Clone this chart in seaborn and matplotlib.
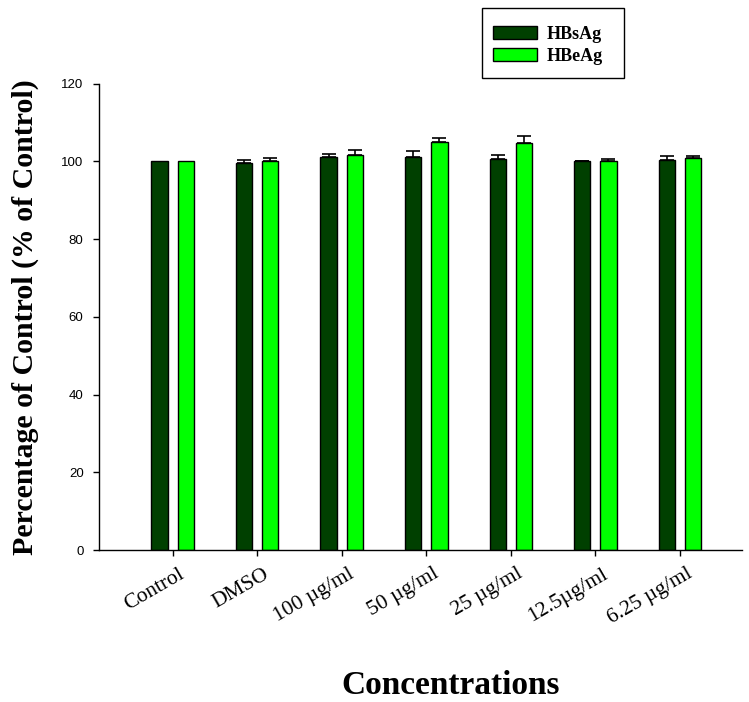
import numpy as np
import pandas as pd
import matplotlib
matplotlib.use("Agg")
import matplotlib.pyplot as plt
import matplotlib.transforms as mtransforms
import seaborn as sns
from matplotlib.patches import Patch, Rectangle

# Data: percentage of control for each antigen
concentrations = ["Control", "DMSO", "100 \u00b5g/ml", "50 \u00b5g/ml",
                  "25 \u00b5g/ml", "12.5\u00b5g/ml", "6.25 \u00b5g/ml"]
hbsag_mean = [100.0, 99.6, 101.1, 101.2, 100.6, 100.0, 100.3]
hbsag_err = [0.0, 0.8, 0.7, 1.4, 0.9, 0.2, 1.1]
hbeag_mean = [100.0, 100.0, 101.6, 105.0, 104.6, 100.1, 100.8]
hbeag_err = [0.0, 0.9, 1.4, 0.9, 1.9, 0.5, 0.6]
series = ["HBsAg", "HBeAg"]
colors = ["#004000", "#00ff00"]

df = pd.DataFrame({
    "Concentration": concentrations * 2,
    "Antigen": [series[0]] * len(concentrations) + [series[1]] * len(concentrations),
    "Value": hbsag_mean + hbeag_mean,
    "Err": hbsag_err + hbeag_err,
})

sns.set_theme(style="ticks")
plt.rcParams["font.family"] = ["Liberation Serif", "DejaVu Serif"]
plt.rcParams["text.color"] = "black"
plt.rcParams["axes.labelcolor"] = "black"
plt.rcParams["xtick.color"] = "black"
plt.rcParams["ytick.color"] = "black"

fig = plt.figure(figsize=(7.49, 7.02), dpi=100)
ax = fig.add_axes([0.132, 0.2165, 0.859, 0.6645])

sns.barplot(data=df, x="Concentration", y="Value", hue="Antigen",
            order=concentrations, hue_order=series, palette=colors,
            width=0.62, gap=0.38, errorbar=None, edgecolor="black",
            linewidth=1.0, saturation=1, legend=False, ax=ax)

# Upper-only error bars placed on each bar's centre
for container, errs in zip(ax.containers, [hbsag_err, hbeag_err]):
    for bar, e in zip(container, errs):
        if e <= 0:
            continue
        xc = bar.get_x() + bar.get_width() / 2
        h = bar.get_height()
        ax.errorbar(xc, h, yerr=[[0], [e]], fmt="none", ecolor="black",
                    elinewidth=1.2, capsize=5, capthick=1.2, zorder=3)

ax.set_xlim(-0.872, 6.737)
ax.set_ylim(0, 120)
ax.set_yticks(np.arange(0, 121, 20))
for lbl in ax.get_yticklabels():
    lbl.set_fontfamily("Liberation Sans")
    lbl.set_fontsize(9.5)

ax.set_xticks(range(len(concentrations)))
ax.set_xticklabels(concentrations, rotation=30, ha="right", va="top",
                   rotation_mode="anchor", fontsize=15.5)
ax.tick_params(axis="both", direction="out", length=4.5, width=1,
               colors="black")
ax.tick_params(axis="x", pad=6)
ax.tick_params(axis="y", pad=6.5)
shift = mtransforms.ScaledTranslation(0.06, 0, fig.dpi_scale_trans)
for lbl in ax.get_xticklabels():
    lbl.set_transform(lbl.get_transform() + shift)

sns.despine(ax=ax)
for s in ["left", "bottom"]:
    ax.spines[s].set_linewidth(1.0)
    ax.spines[s].set_color("black")

ax.set_xlabel("")
ax.set_ylabel("Percentage of Control (% of Control)", fontsize=21.5,
              fontweight="bold", labelpad=16)
fig.text(0.601, 0.024, "Concentrations", ha="center", va="center",
         fontsize=24, fontweight="bold")

# Legend box drawn as a figure rectangle, entries placed inside it
W, H = fig.get_size_inches() * fig.dpi
fig.patches.append(Rectangle((482 / W, 1 - 78 / H), 142 / W, 70 / H,
                             transform=fig.transFigure, facecolor="white",
                             edgecolor="black", linewidth=1.0, zorder=5))
handles = [Patch(facecolor=c, edgecolor="black", label=s)
           for c, s in zip(colors, series)]
leg = fig.legend(handles=handles, loc="upper left",
                 bbox_to_anchor=(493 / W, 1 - 26 / H),
                 frameon=False, prop={"weight": "bold", "size": 13},
                 handlelength=2.45, handleheight=0.7, borderpad=0,
                 handletextpad=0.5, labelspacing=0.28, borderaxespad=0)
leg.set_zorder(6)

fig.savefig("out.png", dpi=100)
